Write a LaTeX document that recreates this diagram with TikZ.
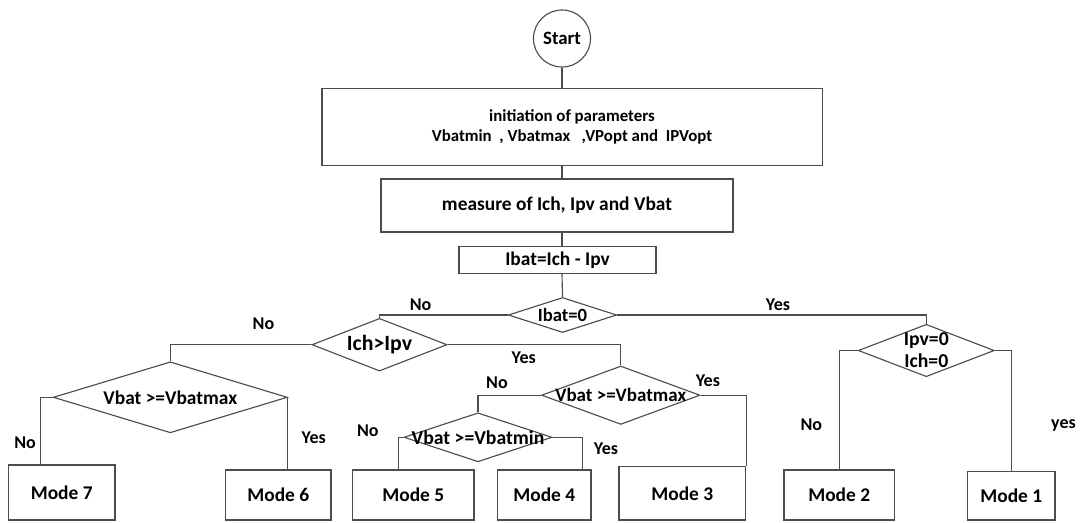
\documentclass[tikz,border=0pt]{standalone}
\usepackage{fontspec}
\setmainfont{Carlito}
\usetikzlibrary{shapes.geometric,calc}

\begin{document}
\begin{tikzpicture}[x=0.025cm,y=-0.025cm,
    every node/.style={font=\bfseries\fontsize{13.8}{16}\selectfont, inner sep=0pt},
    box/.style={draw=black!70, line width=0.8pt, rectangle},
    dia/.style={draw=black!70, line width=0.8pt, diamond},
    lbl/.style={font=\bfseries\fontsize{12.8}{15}\selectfont, inner sep=3pt}]
    \useasboundingbox (0,0) rectangle (1080,522);

    \node[draw=black!70, line width=0.8pt, circle, minimum size=1.425cm, font=\bfseries\fontsize{13.4}{16}\selectfont] (start) at (562,38.5) {Start};
    \node[box, minimum width=12.5cm, minimum height=1.925cm, align=center, font=\bfseries\fontsize{12}{14.2}\selectfont] (init) at (572,127) {initiation of parameters\\Vbatmin\ \ , Vbatmax\ \ \ ,VPopt and\ \ IPVopt};
    \node[box, minimum width=8.8cm, minimum height=1.325cm] (meas) at (557,205.5) {measure of Ich, Ipv and Vbat};
    \node[box, minimum width=4.925cm, minimum height=0.665cm] (ibatc) at (557.5,260) {Ibat=Ich - Ipv};

    \node[dia, minimum width=2.71cm, minimum height=0.875cm] (d0) at (562.5,315) {};
    \node[font=\bfseries\fontsize{13.3}{16}\selectfont] (t0) at (d0) {Ibat=0};
    \node[dia, minimum width=3.375cm, minimum height=1.3175cm] (d1) at (379.5,344.7) {};
    \node[font=\bfseries\fontsize{15.5}{18}\selectfont] (t1) at (d1) {Ich>Ipv};
    \node[dia, minimum width=5.85cm, minimum height=1.775cm] (d2) at (170.3,397.3) {};
    \node (t2) at (d2) {Vbat >=Vbatmax};
    \node[dia, minimum width=3.96cm, minimum height=1.46cm] (d3) at (620.8,395.2) {};
    \node[font=\bfseries\fontsize{13.5}{16}\selectfont] (t3) at (d3) {Vbat >=Vbatmax};
    \node[dia, minimum width=3.7cm, minimum height=1.225cm] (d4) at (478,437.3) {};
    \node[font=\bfseries\fontsize{14}{16}\selectfont] (t4) at (d4) {Vbat >=Vbatmin};
    \node[dia, minimum width=3.4cm, minimum height=1.31cm] (d5) at (926.3,350.5) {};
    \node[align=center, font=\bfseries\fontsize{14}{15.6}\selectfont] (t5) at (d5) {Ipv=0\\Ich=0};

    \node[box, minimum width=2.667cm, minimum height=1.375cm] (m7) at (61.7,492.5) {Mode 7};
    \node[box, minimum width=2.633cm, minimum height=1.25cm] (m6) at (278.3,495) {Mode 6};
    \node[box, minimum width=3.033cm, minimum height=1.25cm] (m5) at (413.3,495) {Mode 5};
    \node[box, minimum width=2.333cm, minimum height=1.25cm] (m4) at (544.3,495) {Mode 4};
    \node[box, minimum width=3.167cm, minimum height=1.333cm] (m3) at (682.3,493.3) {Mode 3};
    \node[box, minimum width=2.758cm, minimum height=1.25cm] (m2) at (839.2,495) {Mode 2};
    \node[box, minimum width=2.183cm, minimum height=1.208cm] (m1) at (1011.3,495.8) {Mode 1};

    \begin{scope}[draw=black!70, line width=0.8pt]
    \draw (start) -- (start |- init.north);
    \draw (init.south -| start) -- (meas.north -| start);
    \draw (meas.south -| start) -- (ibatc.north -| start);
    \draw (ibatc.south -| start) -- (d0.north);

    \draw (d0.west) -| (d1.north) node[lbl,pos=0.34,above] {No};
    \draw (d0.east) -| (d5.north) node[lbl,pos=0.26,above] {Yes};

    \draw (d1.west) -| (d2.north) node[lbl,pos=0.17,above=7pt] {No};
    \draw (d1.east) -| (d3.north) node[lbl,pos=0.22,below,yshift=-2pt] {Yes};

    \draw (d2.west) -| ($(m7.north west)!0.305!(m7.north east)$) node[lbl,pos=0.84,left] {No};
    \draw (d2.east) -- (d2.east |- m6.north) node[lbl,pos=0.56,right=6.4pt] {Yes};

    \draw (d3.west) -| (d4.north) node[lbl,pos=0.35,above=1.5pt] {No};
    \draw (d3.east) -| (m3.north east) node[lbl,pos=0.08,above=3pt] {Yes};

    \draw (d4.west) -| ($(m5.north west)!0.376!(m5.north east)$) node[lbl,pos=0.5,left=10.5pt,yshift=5pt] {No};
    \draw (d4.east) -| ($(m4.north west)!0.9!(m4.north east)$) node[lbl,pos=0.68,right=5pt] {Yes};

    \draw (d5.west) -| (m2.north) node[lbl,pos=0.81,left=8.8pt] {No};
    \draw (d5.east) -| (m1.north) node[lbl,pos=0.81,right=25pt] {yes};
    \end{scope}
\end{tikzpicture}
\end{document}
